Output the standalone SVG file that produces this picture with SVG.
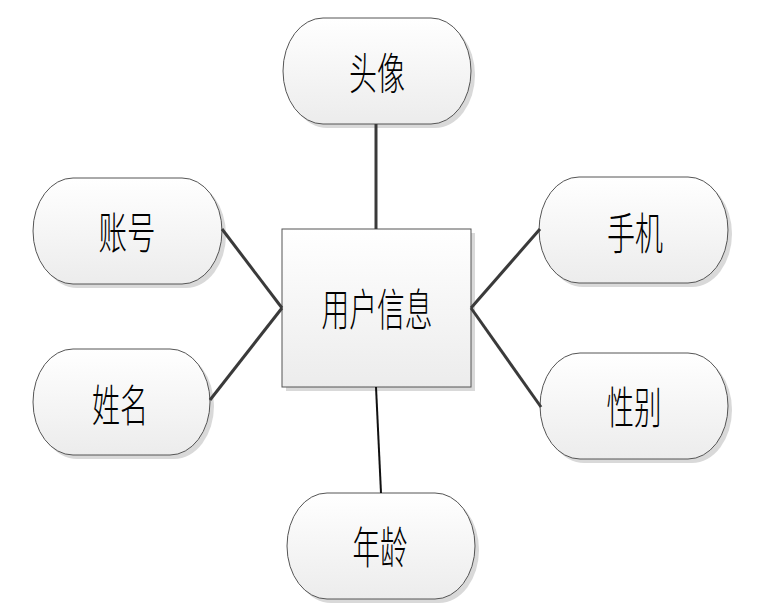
<svg xmlns="http://www.w3.org/2000/svg" width="781" height="607" viewBox="0 0 781 607">
<defs>
<linearGradient id="g" x1="0" y1="0" x2="0" y2="1">
<stop offset="0" stop-color="#ffffff"/>
<stop offset="1" stop-color="#ececec"/>
</linearGradient>
<style>
.sh{fill:#d9d9d9;stroke:none}
.nd{fill:url(#g);stroke:#555;stroke-width:1}
.t{font-family:"Noto Sans CJK SC","Noto Sans CJK TC",sans-serif;font-size:44px;font-weight:300;fill:#000;text-anchor:middle;dominant-baseline:central}
.c{stroke:#3a3a3a;stroke-width:3;fill:none}
</style>
</defs>
<rect width="781" height="607" fill="#fff"/>
<g id="center">
<rect class="sh" x="286" y="233" width="189" height="158"/>
<rect class="nd" x="282" y="229" width="189" height="158"/>
<text class="t" x="377" y="307" textLength="111" lengthAdjust="spacingAndGlyphs">用户信息</text>
</g>
<g id="touxiang">
<path class="sh" d="M327,22 H435 A40,53 0 0 1 435,128 H327 A40,53 0 0 1 327,22 Z"/>
<path class="nd" d="M323,18 H431 A40,53 0 0 1 431,124 H323 A40,53 0 0 1 323,18 Z"/>
<text class="t" x="377" y="71" textLength="56" lengthAdjust="spacingAndGlyphs">头像</text>
</g>
<g id="zhanghao">
<path class="sh" d="M77,182 H186 A40,53 0 0 1 186,288 H77 A40,53 0 0 1 77,182 Z"/>
<path class="nd" d="M73,178 H182 A40,53 0 0 1 182,284 H73 A40,53 0 0 1 73,178 Z"/>
<text class="t" x="127" y="230" textLength="57" lengthAdjust="spacingAndGlyphs">账号</text>
</g>
<g id="xingming">
<path class="sh" d="M77,353 H174 A40,53 0 0 1 174,459 H77 A40,53 0 0 1 77,353 Z"/>
<path class="nd" d="M73,349 H170 A40,53 0 0 1 170,455 H73 A40,53 0 0 1 73,349 Z"/>
<text class="t" x="120" y="403" textLength="56" lengthAdjust="spacingAndGlyphs">姓名</text>
</g>
<g id="shouji">
<path class="sh" d="M583,181 H692 A40,53 0 0 1 692,287 H583 A40,53 0 0 1 583,181 Z"/>
<path class="nd" d="M579,177 H688 A40,53 0 0 1 688,283 H579 A40,53 0 0 1 579,177 Z"/>
<text class="t" x="635" y="231" textLength="56" lengthAdjust="spacingAndGlyphs">手机</text>
</g>
<g id="xingbie">
<path class="sh" d="M584,357 H692 A40,53 0 0 1 692,463 H584 A40,53 0 0 1 584,357 Z"/>
<path class="nd" d="M580,353 H688 A40,53 0 0 1 688,459 H580 A40,53 0 0 1 580,353 Z"/>
<text class="t" x="634" y="405" textLength="55" lengthAdjust="spacingAndGlyphs">性别</text>
</g>
<g id="nianling">
<path class="sh" d="M331,497 H439 A40,53 0 0 1 439,603 H331 A40,53 0 0 1 331,497 Z"/>
<path class="nd" d="M327,493 H435 A40,53 0 0 1 435,599 H327 A40,53 0 0 1 327,493 Z"/>
<text class="t" x="380" y="545" textLength="55" lengthAdjust="spacingAndGlyphs">年龄</text>
</g>
<g id="connectors">
<line class="c" x1="376" y1="124" x2="376" y2="229" stroke-width="2.5"/>
<line class="c" x1="222" y1="229" x2="282" y2="308"/>
<line class="c" x1="210" y1="400" x2="282" y2="308"/>
<line class="c" x1="471" y1="308" x2="540" y2="229"/>
<line class="c" x1="471" y1="308" x2="541" y2="407"/>
<line x1="376" y1="387" x2="381" y2="493" stroke="#111" stroke-width="2"/>
</g>
</svg>
